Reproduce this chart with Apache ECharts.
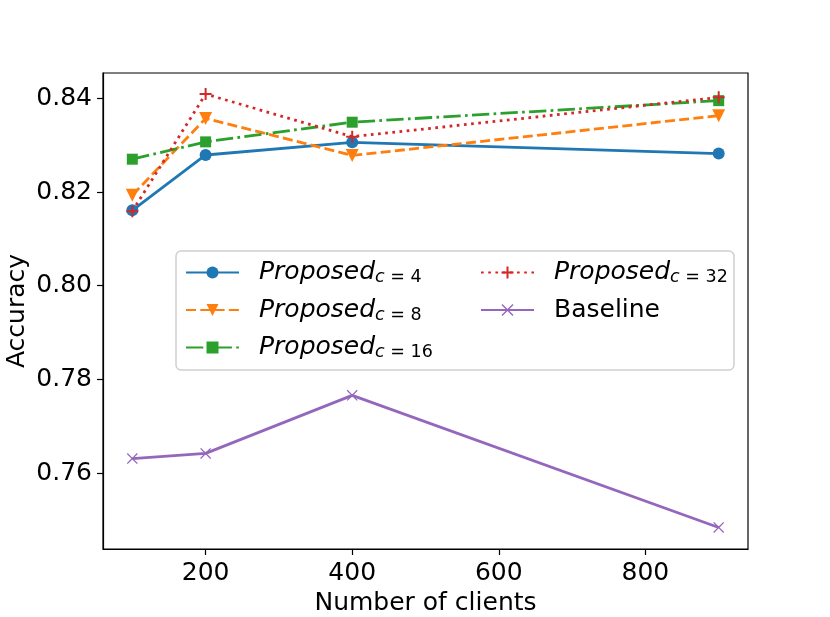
<!DOCTYPE html>
<html>
<head>
<meta charset="utf-8">
<script src="https://cdn.jsdelivr.net/npm/echarts@6/dist/echarts.min.js"></script>
<style>
  html, body { margin: 0; padding: 0; background: #fff; }
  #chart { width: 830px; height: 617px; }
</style>
</head>
<body>
<div id="chart"></div>
<script>
// --- data ---
const clients = [100, 200, 400, 900];
const accC4 = [0.8161, 0.8279, 0.8306, 0.8282];
const accC8 = [0.8193, 0.8357, 0.8278, 0.8363];
const accC16 = [0.8270, 0.8307, 0.8349, 0.8395];
const accC32 = [0.8159, 0.8409, 0.8318, 0.8402];
const accBaseline = [0.7631, 0.7642, 0.7766, 0.7484];
const xTicks = [200, 400, 600, 800];
const yTicks = [0.76, 0.78, 0.80, 0.82, 0.84];

const FONT = 'DejaVu Sans';
const plusPath = 'path://M5,0 H7 V5 H12 V7 H7 V12 H5 V7 H0 V5 H5 Z';
const crossPath = 'path://M0,1 L1,0 L6,5 L11,0 L12,1 L7,6 L12,11 L11,12 L6,7 L1,12 L0,11 L5,6 Z';

function pairs(ys) {
    return clients.map((x, i) => [x, ys[i]]);
}

function makeSeries(name, ys, color, dash, symbol, size, rotate) {
    return {
        name: name,
        type: 'line',
        data: pairs(ys),
        symbol: symbol,
        symbolSize: size,
        symbolRotate: rotate || 0,
        showAllSymbol: true,
        itemStyle: { color: color },
        lineStyle: { color: color, width: 2.8, type: dash, cap: 'butt' },
        emphasis: { disabled: true }
    };
}

const chart = echarts.init(document.getElementById('chart'));

const legendRich = {
    gap: { width: 15 },
    it: { fontFamily: FONT, fontSize: 25, fontStyle: 'italic', color: '#000' },
    subi: { fontFamily: FONT, fontSize: 17.5, fontStyle: 'italic', color: '#000', padding: [10, 0, 0, 0] },
    subn: { fontFamily: FONT, fontSize: 17.5, color: '#000', padding: [10, 0, 0, 0] },
    txt: { fontFamily: FONT, fontSize: 25, color: '#000' }
};

function legendLabel(name) {
    if (name === 'Baseline') return '{gap|}{txt|Baseline}';
    const c = name.split('=')[1];
    return '{gap|}{it|Proposed}{subi|c}{subn| = ' + c + '}';
}

const legendCommon = {
    orient: 'vertical',
    itemWidth: 53,
    itemHeight: 15,
    itemGap: 11,
    padding: 0,
    z: 5,
    selectedMode: false,
    formatter: legendLabel,
    textStyle: { fontFamily: FONT, fontSize: 25, color: '#000', rich: legendRich }
};

const option = {
    animation: false,
    backgroundColor: '#fff',
    grid: {
        left: 103, right: 82, top: 73, bottom: 68,
        outerBoundsMode: 'none',
        containLabel: false,
        show: true, borderColor: '#000', borderWidth: 1.2, backgroundColor: 'transparent'
    },
    xAxis: {
        type: 'value',
        min: 60,
        max: 940,
        name: 'Number of clients',
        nameLocation: 'middle',
        nameGap: 42,
        nameMoveOverlap: false,
        nameTextStyle: { fontFamily: FONT, fontSize: 25, color: '#000' },
        axisLine: { show: true, lineStyle: { color: '#000', width: 1.2 } },
        axisTick: { show: true, customValues: xTicks, length: 6, lineStyle: { color: '#000', width: 1.2 } },
        axisLabel: { customValues: xTicks, margin: 12, fontFamily: FONT, fontSize: 25, color: '#000' },
        splitLine: { show: false }
    },
    yAxis: {
        type: 'value',
        min: 0.7438,
        max: 0.8454,
        name: 'Accuracy',
        nameLocation: 'middle',
        nameGap: 73,
        nameMoveOverlap: false,
        nameTextStyle: { fontFamily: FONT, fontSize: 25, color: '#000' },
        axisLine: { show: true, lineStyle: { color: '#000', width: 1.2 } },
        axisTick: { show: true, customValues: yTicks, length: 6, lineStyle: { color: '#000', width: 1.2 } },
        axisLabel: {
            customValues: yTicks, margin: 11, fontFamily: FONT, fontSize: 25, color: '#000',
            formatter: v => v.toFixed(2)
        },
        splitLine: { show: false }
    },
    graphic: [{
        type: 'rect',
        z: 4,
        shape: { x: 176, y: 251, width: 558, height: 119, r: 5 },
        style: { fill: 'rgba(255,255,255,0.8)', stroke: '#d0d0d0', lineWidth: 1.5 }
    }],
    legend: [
        Object.assign({}, legendCommon, {
            left: 185, top: 260,
            data: ['Proposed c=4', 'Proposed c=8', 'Proposed c=16']
        }),
        Object.assign({}, legendCommon, {
            left: 480, top: 260,
            data: ['Proposed c=32', 'Baseline']
        })
    ],
    series: [
        makeSeries('Proposed c=4', accC4, '#1f77b4', 'solid', 'circle', 12),
        makeSeries('Proposed c=8', accC8, '#ff7f0e', [10, 4.3], 'triangle', 13, 180),
        makeSeries('Proposed c=16', accC16, '#2ca02c', [17.3, 4.3, 2.7, 4.3], 'rect', 11),
        makeSeries('Proposed c=32', accC32, '#d62728', [2.7, 4.5], plusPath, 12),
        makeSeries('Baseline', accBaseline, '#9467bd', 'solid', crossPath, 11)
    ]
};

chart.setOption(option);
</script>
</body>
</html>
